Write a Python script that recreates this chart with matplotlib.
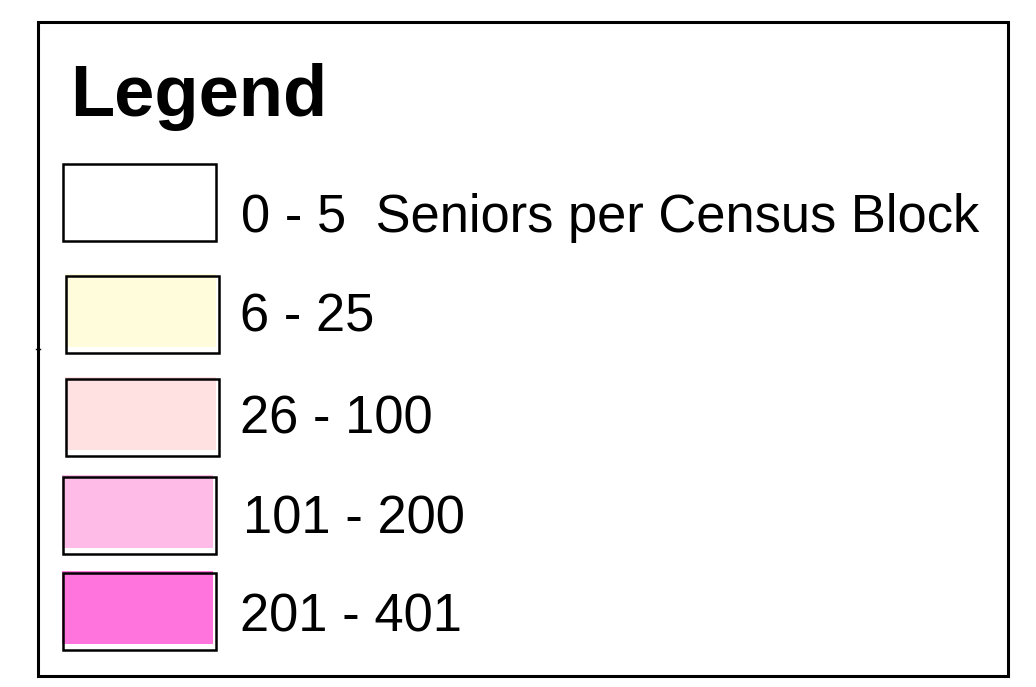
import matplotlib
matplotlib.use("Agg")
import matplotlib.pyplot as plt
from matplotlib.patches import Rectangle

# legend classes (seniors per census block)
labels = ["0 - 5  Seniors per Census Block", "6 - 25", "26 - 100", "101 - 200", "201 - 401"]
colors = ["#FFFFFF", "#FFFCDC", "#FFE1E2", "#FFBBE7", "#FF74DD"]
title = "Legend"

# layout in pixel coordinates (top, left of each swatch border)
box_tops = [164, 276, 379, 477, 573]
box_lefts = [63, 66, 66, 63, 63]
box_w, box_h = 153, 77
text_x = [241, 240, 240, 243, 240]
baselines = [232, 332, 433, 533, 632]

W, H = 1036, 687
fig = plt.figure(figsize=(W / 100, H / 100), dpi=100)
ax = fig.add_axes([0, 0, 1, 1])
ax.set_xlim(0, W)
ax.set_ylim(H, 0)
ax.axis("off")

# outer frame
ax.add_patch(Rectangle((38, 22), 970, 654, fill=False, edgecolor="black", linewidth=2.2))
ax.plot([36, 40], [349, 349], color="black", linewidth=1)

ax.text(70, 116, title, fontsize=52, fontweight="bold", family="Liberation Sans",
        va="baseline", ha="left")

for i in range(len(labels)):
    x0, y0 = box_lefts[i], box_tops[i]
    # fill slightly offset from the outline, like the scanned original
    if i > 0:
        ax.add_patch(Rectangle((x0 - 1, y0 - 2), box_w - 2, box_h - 4,
                               facecolor=colors[i], edgecolor="none"))
    ax.add_patch(Rectangle((x0, y0), box_w, box_h, fill=False,
                           edgecolor="black", linewidth=1.8))
    ax.text(text_x[i], baselines[i], labels[i], fontsize=37.8, family="Liberation Sans",
            va="baseline", ha="left")

fig.savefig("out.png", dpi=100)
